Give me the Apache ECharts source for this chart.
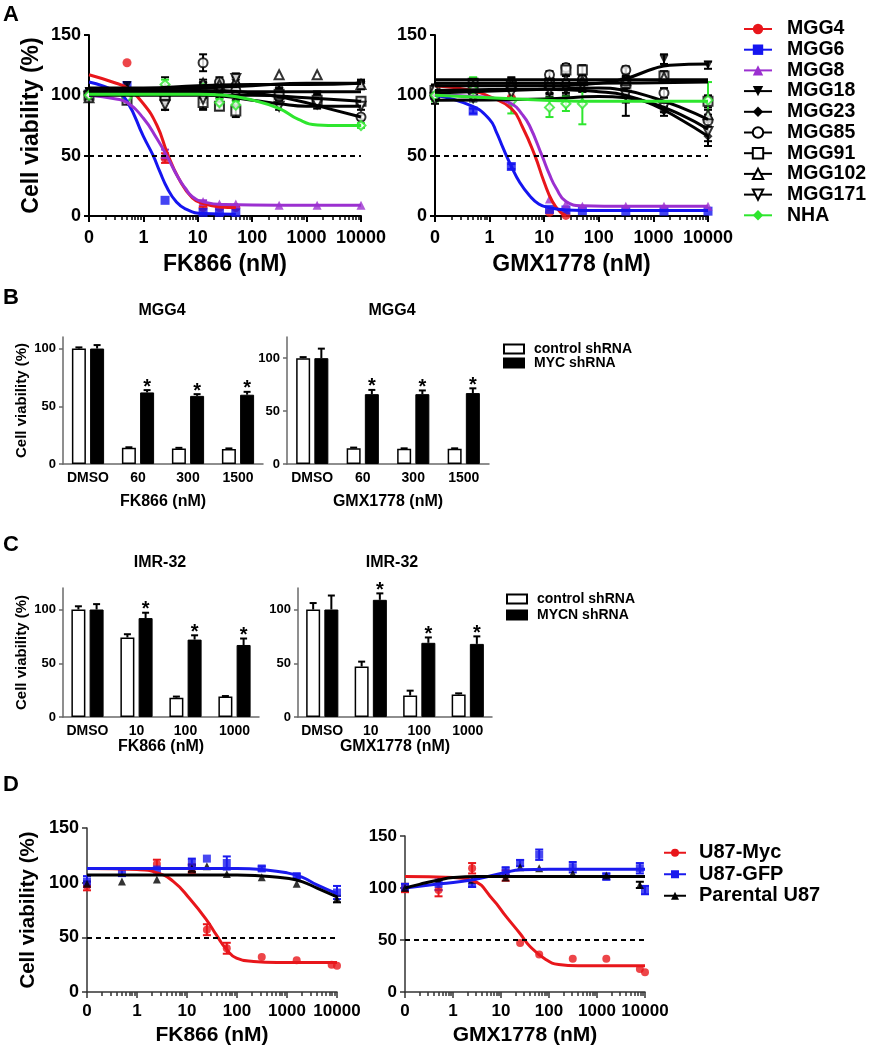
<!DOCTYPE html>
<html><head><meta charset="utf-8">
<script src="https://cdn.jsdelivr.net/npm/echarts@6/dist/echarts.min.js"></script>
<style>html,body{margin:0;padding:0;background:#fff}#c{width:872px;height:1050px}</style>
</head><body><div id="c"></div>
<script>
const FONT = '"Liberation Sans", Arial, Helvetica, sans-serif';

// ================= DATA =================
// Panel A: concentrations (nM); 0 is drawn at the "0" tick position
const concA = [0, 0.5, 2.5, 12.5, 25, 50, 312.5, 1562.5, 10000];
const namesA = ['MGG4','MGG6','MGG8','MGG18','MGG23','MGG85','MGG91','MGG102','MGG171','NHA'];
const decadeTicks = [-1, 0, 1, 2, 3, 4];
const decadeLabels = ['0', '1', '10', '100', '1000', '10000'];

// A - FK866 points
const fkMGG4   = [100,127,48,7,7,7,null,null,null];
const fkMGG6   = [101,108,13,3,3,3,null,null,null];
const fkMGG8   = [100,96,51,12,10,10,9,9,9];
const fkMGG18  = [103,108,105,107,108,110,103,100,108];
const fkMGG23  = [102,99,96,97,104,106,104,97,110];
const fkMGG85  = [101,100,97,127,111,104,99,96,82];
const fkMGG91  = [100,96,100,94,91,87,101,96,95];
const fkMGG102 = [98,104,103,110,109,112,117,117,109];
const fkMGG171 = [99,97,92,97,105,114,91,93,91];
const fkNHA    = [100,98,109,106,94,92,null,null,75];
// A - FK866 errors
const fkMGG4e   = [3,0,4,1,1,1,0,0,0];
const fkMGG6e   = [2,3,0,0,0,0,0,0,0];
const fkMGG8e   = [2,3,4,1,0,0,0,0,0];
const fkMGG18e  = [3,3,10,4,5,8,3,3,3];
const fkMGG23e  = [2,4,8,9,6,10,4,6,3];
const fkMGG85e  = [2,3,3,7,4,4,3,4,2];
const fkMGG91e  = [2,3,4,5,3,5,3,5,3];
const fkMGG102e = [3,0,3,3,3,3,0,0,3];
const fkMGG171e = [2,2,4,3,4,4,3,4,3];
const fkNHAe    = [2,2,4,3,3,3,0,0,2];
// A - FK866 fitted curves: [log10 position, viability]
const fkMGG4f   = [[-1,117],[-0.5,110],[-0.3,106],[0,93],[0.25,75],[0.44,52],[0.65,31],[0.9,15],[1.12,10],[1.4,7.5],[1.7,7]];
const fkMGG6f   = [[-1,111],[-0.5,103],[-0.3,95],[0,66],[0.18,50],[0.3,37],[0.44,23],[0.6,12],[0.77,6],[1.1,2],[1.7,1.5]];
const fkMGG8f   = [[-1,100],[-0.5,97],[-0.3,94],[0,81],[0.25,64],[0.44,49],[0.65,31],[0.77,23],[0.9,16],[1.12,11.5],[1.5,9.5],[2.5,9],[4,9]];
const fkMGG18f  = [[-1,106],[0,106],[1,108],[2,109],[3,109],[4,110]];
const fkMGG23f  = [[-1,103],[1.5,103],[4,103]];
const fkMGG85f  = [[-1,103],[1,104],[2,102],[2.8,96],[3.4,89],[4,82]];
const fkMGG91f  = [[-1,100],[2,100],[3,98],[4,95]];
const fkMGG102f = [[-1,105],[1,106],[2,108],[3,110],[4,110]];
const fkMGG171f = [[-1,102],[1,101],[2,96],[2.5,93],[3,91],[4,91]];
const fkNHAf    = [[-1,101],[0,101],[1,101],[1.5,100],[2,96],[2.5,89],[2.85,80],[3.2,75.5],[3.6,75],[4,75]];

// A - GMX1778 points
const gmMGG4   = [103,105,98,3,0.5,null,null,null,null];
const gmMGG6   = [100,87,41,5.5,5,4.5,4,4,4];
const gmMGG8   = [100,98,95,14,10,8,8,8,8];
const gmMGG18  = [105,107,108,106,104,110,108,130,125];
const gmMGG23  = [101,104,106,108,111,109,103,87,66];
const gmMGG85  = [99,103,110,117,123,113,121,102,79];
const gmMGG91  = [104,110,108,110,121,121,110,116,95];
const gmMGG102 = [106,108,109,111,113,112,112,115,84];
const gmMGG171 = [96,98,102,104,106,108,100,90,70];
const gmNHA    = [100,105,95,90,93,93,null,null,96];
// A - GMX1778 errors
const gmMGG4e   = [2,0,0,0,0,0,0,0,0];
const gmMGG6e   = [2,2,2,0,0,0,0,0,0];
const gmMGG8e   = [2,2,0,0,0,0,0,0,0];
const gmMGG18e  = [3,6,4,5,4,5,8,4,3];
const gmMGG23e  = [3,8,8,6,6,6,20,4,8];
const gmMGG85e  = [2,5,5,3,3,3,3,4,5];
const gmMGG91e  = [3,4,4,4,3,4,4,4,5];
const gmMGG102e = [3,3,3,3,3,3,3,3,4];
const gmMGG171e = [3,3,4,5,4,5,6,4,8];
const gmNHAe    = [5,10,10,8,6,17,0,0,15];
// A - GMX1778 fitted curves
const gmMGG4f   = [[-1,108],[-0.32,104],[0,99],[0.4,89],[0.6,74],[0.83,50],[1.0,28],[1.15,12],[1.3,3],[1.4,0.5]];
const gmMGG6f   = [[-1,100],[-0.32,91],[0,80],[0.12,70],[0.25,56],[0.4,41],[0.55,28],[0.73,17],[0.9,10],[1.08,7],[1.4,5],[2,4.5],[4,4.5]];
const gmMGG8f   = [[-1,101],[-0.32,99],[0,98],[0.4,93],[0.6,84],[0.73,75],[0.96,50],[1.1,34],[1.22,23],[1.4,12],[1.7,8.5],[2.5,8],[4,8]];
const gmMGG18f  = [[-1,108],[1,108],[2,110],[2.5,114],[3,122],[3.3,125],[4,126]];
const gmMGG23f  = [[-1,104],[1,105],[2,103],[2.5,100],[3,92],[3.5,80],[4,66]];
const gmMGG85f  = [[-1,102],[1,105],[2,106],[2.5,104],[3,98],[3.5,90],[4,80]];
const gmMGG91f  = [[-1,113],[1.5,113],[4,113]];
const gmMGG102f = [[-1,110],[1.5,110],[4,111]];
const gmMGG171f = [[-1,96],[1,97],[2,99],[2.5,98],[3,93],[3.5,84],[4,72]];
const gmNHAf    = [[-1,100],[0,98],[1,96],[2,95],[4,95]];

// Panel B (MGG4, MYC shRNA)
const catsB = ['DMSO','60','300','1500'];
const bFkCtrl = [100,14,13.5,13];   const bFkCtrlE = [1,0.5,0.5,0.5];
const bFkMyc  = [100,62,59,60];     const bFkMycE  = [3,2,1.5,2.5];
const bGmCtrl = [100,15,14.5,14.5]; const bGmCtrlE = [1,0.5,0.3,0.3];
const bGmMyc  = [100,66,66,67];     const bGmMycE  = [9,4,3.5,4.5];
const bSig    = [0,1,1,1];

// Panel C (IMR-32, MYCN shRNA)
const catsC = ['DMSO','10','100','1000'];
const cFkCtrl = [100,74,18,19];     const cFkCtrlE = [3,3,1,0.5];
const cFkMycn = [100,92,72,67];     const cFkMycnE = [5,5,4,6];
const cGmCtrl = [100,47,20,21];     const cGmCtrlE = [6,4.5,4.5,1];
const cGmMycn = [100,109,69,68];    const cGmMycnE = [13,6,5,7];
const cSig    = [0,1,1,1];

// Panel D (U87)
const concD = [0,0.5,2.5,12.5,25,62.5,312.5,1562.5,7812.5,10000];
const namesD = ['U87-Myc','U87-GFP','Parental U87'];
const dfMyc = [97,null,117,113,57,40,32,29,25,24];      const dfMyce = [4,0,4,4,5,5,0,0,0,0];
const dfGFP = [101,109,112,118,122,118,113,106,null,91]; const dfGFPe = [5,3,0,4,0,6,2,2,0,6];
const dfPar = [99,101,103,113,115,108,105,99,null,85];   const dfPare = [2,0,0,3,0,0,0,0,0,3];
const dgMyc = [100,98,119,112,47,36,32,32,22,19];       const dgMyce = [4,6,5,5,0,0,0,0,0,0];
const dgGFP = [101,104,104,116,124,132,120,111,119,98];  const dgGFPe = [3,6,3,4,3,5,5,3,5,4];
const dgPar = [100,107,108,110,120,119,114,112,103,null]; const dgPare = [0,0,0,0,0,0,0,0,3,0];
const dfMycf = [[-1,113],[0,112],[0.4,109],[0.73,101],[1.06,85],[1.39,66],[1.59,52],[1.79,39],[1.99,31],[2.33,28],[2.8,27],[4,27]];
const dfGFPf = [[-1,113],[1,113],[2,113],[2.5,112],[3,109],[3.3,105],[3.6,98],[4,90]];
const dfParf = [[-1,107],[1,107],[2,107],[2.5,106],[3,104],[3.3,101],[3.6,95],[4,87]];
const dgMycf = [[-1,111],[0,110],[0.42,107],[0.83,89],[1.1,73],[1.4,56],[1.6,44],[1.94,31],[2.2,26.5],[2.6,25.3],[4,25.3]];
const dgGFPf = [[-1,100],[-0.27,104],[0.42,108],[1.1,115],[1.4,117.5],[2,118],[4,118]];
const dgParf = [[-1,100],[-0.7,103.5],[-0.27,108],[0,110],[0.5,111],[2,111],[4,111]];

// ================= BUILD =================
const lx = c => (c === 0 ? -1 : Math.log10(c));
const STY = {
  MGG4:{color:'#e8161b', sym:'circle'},
  MGG6:{color:'#1515f0', sym:'rect'},
  MGG8:{color:'#9b30d0', sym:'triangle'},
  MGG18:{color:'#000', sym:'triangle', rot:180},
  MGG23:{color:'#000', sym:'diamond'},
  MGG85:{color:'#000', sym:'emptyCircle'},
  MGG91:{color:'#000', sym:'emptyRect'},
  MGG102:{color:'#000', sym:'emptyTriangle'},
  MGG171:{color:'#000', sym:'emptyTriangle', rot:180},
  NHA:{color:'#2ee62e', sym:'diamond', pt:'emptyDiamond'},
  'U87-Myc':{color:'#e8161b', sym:'circle'},
  'U87-GFP':{color:'#1a1aee', sym:'rect'},
  'Parental U87':{color:'#000', sym:'triangle'}
};
const TABLE = {
  fk:{MGG4:[fkMGG4,fkMGG4e,fkMGG4f],MGG6:[fkMGG6,fkMGG6e,fkMGG6f],MGG8:[fkMGG8,fkMGG8e,fkMGG8f],MGG18:[fkMGG18,fkMGG18e,fkMGG18f],
      MGG23:[fkMGG23,fkMGG23e,fkMGG23f],MGG85:[fkMGG85,fkMGG85e,fkMGG85f],MGG91:[fkMGG91,fkMGG91e,fkMGG91f],MGG102:[fkMGG102,fkMGG102e,fkMGG102f],
      MGG171:[fkMGG171,fkMGG171e,fkMGG171f],NHA:[fkNHA,fkNHAe,fkNHAf]},
  gm:{MGG4:[gmMGG4,gmMGG4e,gmMGG4f],MGG6:[gmMGG6,gmMGG6e,gmMGG6f],MGG8:[gmMGG8,gmMGG8e,gmMGG8f],MGG18:[gmMGG18,gmMGG18e,gmMGG18f],
      MGG23:[gmMGG23,gmMGG23e,gmMGG23f],MGG85:[gmMGG85,gmMGG85e,gmMGG85f],MGG91:[gmMGG91,gmMGG91e,gmMGG91f],MGG102:[gmMGG102,gmMGG102e,gmMGG102f],
      MGG171:[gmMGG171,gmMGG171e,gmMGG171f],NHA:[gmNHA,gmNHAe,gmNHAf]},
  df:{'U87-Myc':[dfMyc,dfMyce,dfMycf],'U87-GFP':[dfGFP,dfGFPe,dfGFPf],'Parental U87':[dfPar,dfPare,dfParf]},
  dg:{'U87-Myc':[dgMyc,dgMyce,dgMycf],'U87-GFP':[dgGFP,dgGFPe,dgGFPf],'Parental U87':[dgPar,dgPare,dgParf]}
};

const minorTicks = [];
for (let d = -1; d < 4; d++) for (let k = 2; k < 10; k++) minorTicks.push(d + Math.log10(k));

const grid = [
  {left:89, top:35, width:272, height:181},
  {left:435, top:35, width:273, height:181},
  {left:63, top:337, width:200, height:127},
  {left:287, top:337, width:202, height:127},
  {left:63, top:588, width:196, height:129},
  {left:298, top:588, width:194, height:129},
  {left:87, top:828, width:250, height:164},
  {left:405, top:836, width:240, height:156}
];

function nameStyle(fs){ return {fontFamily:FONT, fontWeight:'bold', fontSize:fs, color:'#000'}; }

function logX(gi, name, lblFs, nameFs, nameGap, axColor, axW, lblMargin) {
  return [{
    type:'value', gridIndex:gi, min:-1, max:4, position:'bottom',
    axisLine:{onZero:false, lineStyle:{color:axColor, width:axW}},
    axisTick:{customValues:decadeTicks, length:6, lineStyle:{color:axColor, width:axW}},
    axisLabel:{customValues:decadeTicks, formatter:v => decadeLabels[decadeTicks.indexOf(Math.round(v))],
      fontFamily:FONT, fontWeight:'bold', fontSize:lblFs, color:'#000', margin:lblMargin},
    splitLine:{show:false},
    name, nameLocation:'middle', nameGap, nameTextStyle:nameStyle(nameFs)
  },{
    type:'value', gridIndex:gi, min:-1, max:4, position:'bottom',
    axisLine:{show:false, onZero:false},
    axisTick:{customValues:minorTicks, length:4, lineStyle:{color:axColor, width:1.5}},
    axisLabel:{show:false}, splitLine:{show:false}
  }];
}
function logY(gi, name, lblFs, nameFs, nameGap, axColor, axW) {
  return {type:'value', gridIndex:gi, min:0, max:150, interval:50, position:'left',
    axisLine:{show:true, onZero:false, lineStyle:{color:axColor, width:axW}},
    axisTick:{show:true, length:5, lineStyle:{color:axColor, width:axW}},
    axisLabel:{fontFamily:FONT, fontWeight:'bold', fontSize:lblFs, color:'#000', margin:8},
    splitLine:{show:false},
    name, nameLocation:'middle', nameGap, nameRotate:90, nameTextStyle:nameStyle(nameFs)};
}
function catX(gi, cats, name, nameGap) {
  return {type:'category', gridIndex:gi, data:cats,
    axisLine:{onZero:false, lineStyle:{color:'#6a6a6a', width:1.5}},
    axisTick:{alignWithLabel:true, length:4, lineStyle:{color:'#6a6a6a', width:1.5}},
    axisLabel:{interval:0, fontFamily:FONT, fontWeight:'bold', fontSize:14, color:'#000', margin:7},
    name, nameLocation:'middle', nameGap, nameTextStyle:nameStyle(16)};
}
function barY(gi, max, name) {
  return {type:'value', gridIndex:gi, min:0, max,
    axisLine:{show:true, onZero:false, lineStyle:{color:'#6a6a6a', width:1.5}},
    axisTick:{show:true, customValues:[0,50,100], length:4, lineStyle:{color:'#6a6a6a', width:1.5}},
    axisLabel:{customValues:[0,50,100], fontFamily:FONT, fontWeight:'bold', fontSize:13, color:'#000', margin:7},
    splitLine:{show:false},
    name, nameLocation:'middle', nameGap:34, nameRotate:90, nameTextStyle:nameStyle(15)};
}

const xAxis = [].concat(
  logX(0, 'FK866 (nM)', 18, 23, 37, '#000', 2, 13),
  logX(1, 'GMX1778 (nM)', 18, 23, 37, '#000', 2, 13),
  [catX(2, catsB, 'FK866 (nM)', 30), catX(3, catsB, 'GMX1778 (nM)', 30),
   catX(4, catsC, 'FK866 (nM)', 21), catX(5, catsC, 'GMX1778 (nM)', 21)],
  logX(6, 'FK866 (nM)', 17, 21, 33, '#333', 1.5, 11),
  logX(7, 'GMX1778 (nM)', 17, 21, 33, '#333', 1.5, 11)
);
const yAxis = [
  logY(0, 'Cell viability (%)', 18, 23, 46, '#000', 2),
  logY(1, '', 18, 22, 47, '#000', 2),
  barY(2, 110, 'Cell viability (%)'), barY(3, 120, ''),
  barY(4, 120, 'Cell viability (%)'), barY(5, 120, ''),
  logY(6, 'Cell viability (%)', 18, 20.5, 48, '#333', 1.5),
  logY(7, '', 17, 20, 48, '#333', 1.5)
];

const series = [];
function errSeries(xi, yi, pts, color, cap, lw) {
  return {type:'custom', xAxisIndex:xi, yAxisIndex:yi, data:pts, encode:{x:0, y:1}, z:2, silent:true,
    renderItem:(p, api) => {
      const x = api.value(0), y = api.value(1), e = api.value(2);
      const a = api.coord([x, y - e]), b = api.coord([x, y + e]);
      const st = {stroke:color, lineWidth:lw};
      return {type:'group', children:[
        {type:'line', shape:{x1:a[0], y1:a[1], x2:b[0], y2:b[1]}, style:st},
        {type:'line', shape:{x1:a[0]-cap, y1:a[1], x2:a[0]+cap, y2:a[1]}, style:st},
        {type:'line', shape:{x1:b[0]-cap, y1:b[1], x2:b[0]+cap, y2:b[1]}, style:st}
      ]};
    }};
}
function addLogPanel(xi, yi, names, conc, tbl, symSize, lineW) {
  names.forEach((n, k) => {
    const st = STY[n];
    const [vals, errs, fit] = tbl[n];
    const line = {type:'line', name:n, xAxisIndex:xi, yAxisIndex:yi, data:fit,
      smooth:0.5, showSymbol:false, symbol:st.sym, symbolRotate:st.rot || 0, symbolSize:symSize,
      lineStyle:{color:st.color, width:lineW}, itemStyle:{color:st.color}, z:4, silent:true};
    if (k === 0) line.markLine = {silent:true, symbol:['none','none'], label:{show:false},
      lineStyle:{color:'#000', type:[5,4], width:2}, data:[{yAxis:50}]};
    series.push(line);
    const pts = [], eps = [];
    conc.forEach((c, i) => {
      if (vals[i] == null) return;
      pts.push([lx(c), vals[i]]);
      if (errs[i]) eps.push([lx(c), vals[i], errs[i]]);
    });
    series.push({type:'scatter', name:n, xAxisIndex:xi, yAxisIndex:yi, data:pts,
      symbol:st.pt || st.sym, symbolRotate:st.rot || 0, symbolSize:symSize,
      itemStyle:{color:st.color, borderWidth:(st.pt || st.sym).indexOf('empty') === 0 ? 2 : 0}, z:3, silent:true});
    if (eps.length) series.push(errSeries(xi, yi, eps, st.color, 4, 2));
  });
}
addLogPanel(0, 0, namesA, concA, TABLE.fk, 9, 3);
addLogPanel(2, 1, namesA, concA, TABLE.gm, 9, 3);
addLogPanel(8, 6, namesD, concD, TABLE.df, 8, 3);
addLogPanel(10, 7, namesD, concD, TABLE.dg, 8, 3);

const BAR_W = 14, BAR_GAP = 0.3;
function addBarPanel(xi, yi, ctrl, ctrlE, sh, shE, sig, shName) {
  series.push({type:'bar', name:'control shRNA', xAxisIndex:xi, yAxisIndex:yi, data:ctrl,
    barWidth:BAR_W, barGap:(BAR_GAP*100)+'%', itemStyle:{color:'#fff', borderColor:'#000', borderWidth:1.5}, silent:true});
  series.push({type:'bar', name:shName, xAxisIndex:xi, yAxisIndex:yi, data:sh,
    barWidth:BAR_W, barGap:(BAR_GAP*100)+'%', itemStyle:{color:'#000', borderColor:'#000', borderWidth:1}, silent:true});
  const d = [];
  ctrl.forEach((v, i) => d.push([i, v, ctrlE[i], 0, -1]));
  sh.forEach((v, i) => d.push([i, v, shE[i], sig[i], 1]));
  const off = (BAR_W + BAR_W*BAR_GAP) / 2;
  series.push({type:'custom', xAxisIndex:xi, yAxisIndex:yi, data:d, encode:{x:0, y:1}, z:5, silent:true,
    renderItem:(p, api) => {
      const i = api.value(0), v = api.value(1), e = api.value(2), s = api.value(3), side = api.value(4);
      const base = api.coord([i, v]), top = api.coord([i, v + e]);
      const x = base[0] + side*off;
      const st = {stroke:'#000', lineWidth:2};
      const ch = [
        {type:'line', shape:{x1:x, y1:base[1], x2:x, y2:top[1]}, style:st},
        {type:'line', shape:{x1:x-3.5, y1:top[1], x2:x+3.5, y2:top[1]}, style:st}
      ];
      if (s) ch.push({type:'text', x:x, y:top[1] - 3, style:{text:'*', fill:'#000',
        font:'bold 20px ' + FONT, align:'center', verticalAlign:'middle'}});
      return {type:'group', children:ch};
    }});
}
addBarPanel(4, 2, bFkCtrl, bFkCtrlE, bFkMyc, bFkMycE, bSig, 'MYC shRNA');
addBarPanel(5, 3, bGmCtrl, bGmCtrlE, bGmMyc, bGmMycE, bSig, 'MYC shRNA');
addBarPanel(6, 4, cFkCtrl, cFkCtrlE, cFkMycn, cFkMycnE, cSig, 'MYCN shRNA');
addBarPanel(7, 5, cGmCtrl, cGmCtrlE, cGmMycn, cGmMycnE, cSig, 'MYCN shRNA');

function legendText(fs, lh, padL) {
  return {fontFamily:FONT, fontWeight:'bold', fontSize:fs, color:'#000', lineHeight:lh, padding:[0,0,0,padL]};
}
const legend = [
  {data:namesA, orient:'vertical', left:743, top:19, padding:0, itemWidth:28, itemHeight:13, itemGap:0.7, selectedMode:false,
   textStyle:legendText(19.5, 20, 10)},
  {data:['control shRNA','MYC shRNA'], orient:'vertical', left:503, top:342, padding:0, icon:'rect', itemWidth:20, itemHeight:9, itemGap:0, selectedMode:false,
   textStyle:legendText(14, 14, 5)},
  {data:['control shRNA','MYCN shRNA'], orient:'vertical', left:506, top:591, padding:0, icon:'rect', itemWidth:20, itemHeight:9, itemGap:0, selectedMode:false,
   textStyle:legendText(14, 16, 5)},
  {data:namesD, orient:'vertical', left:663, top:842, padding:0, itemWidth:22, itemHeight:10, itemGap:0, selectedMode:false,
   textStyle:legendText(20, 21.5, 8)}
];

function txt(t, x, y, fs) {
  return {type:'text', x, y, style:{text:t, font:'bold ' + fs + 'px ' + FONT, fill:'#000', align:'center', verticalAlign:'middle'}};
}
const graphic = [
  txt('A', 11, 15, 22), txt('B', 11, 298, 22), txt('C', 11, 545, 22), txt('D', 11, 785, 22),
  txt('MGG4', 162, 311, 16), txt('MGG4', 392, 311, 16),
  txt('IMR-32', 160, 563, 16), txt('IMR-32', 392, 563, 16)
];

const chart = echarts.init(document.getElementById('c'));
chart.setOption({animation:false, backgroundColor:'#fff', grid, xAxis, yAxis, series, legend, graphic});
</script>
</body></html>
